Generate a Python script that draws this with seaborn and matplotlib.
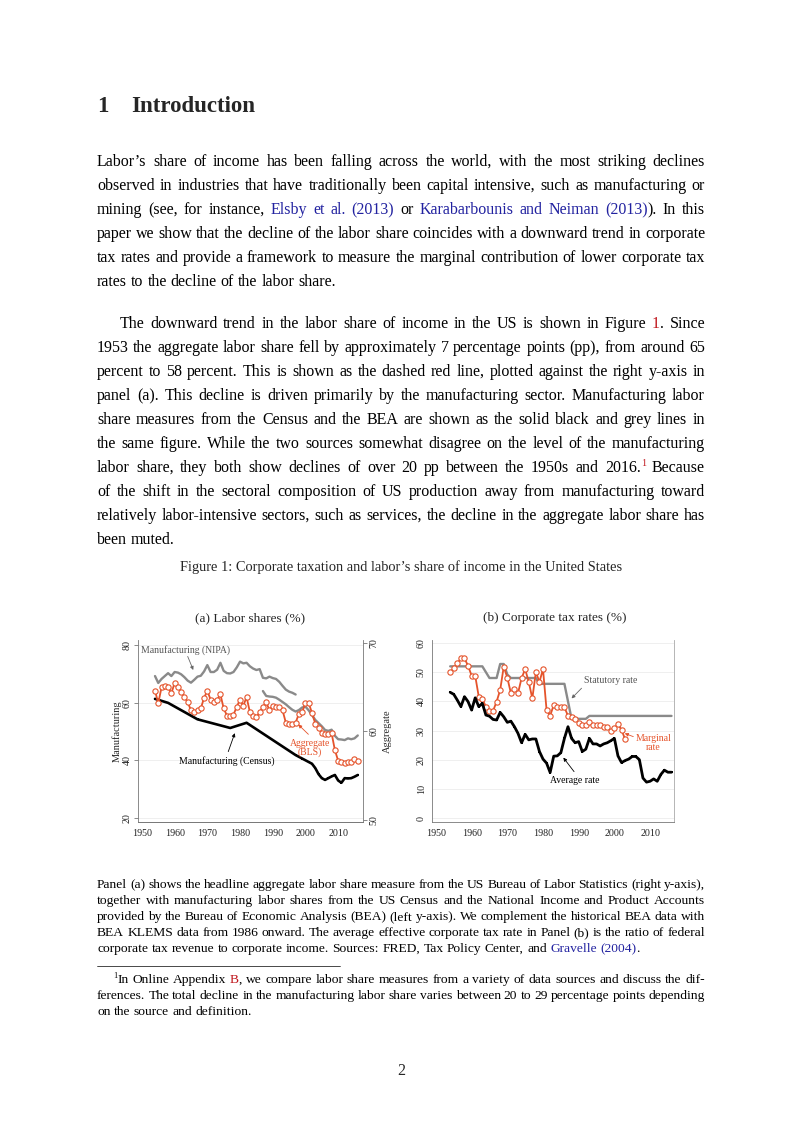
import matplotlib
matplotlib.use("Agg")
import seaborn as sns
import matplotlib.pyplot as plt
from matplotlib.lines import Line2D

# ---------------- data ----------------
# Panel (a): labor shares (%)
bls_years = list(range(1954, 2017))
bls_aggregate = [64.6, 63.2, 65.0, 65.1, 65.0, 64.3, 65.5, 65.0, 64.5, 63.9,
                 63.3, 62.4, 62.2, 62.4, 62.6, 63.8, 64.6, 63.6, 63.3, 63.6,
                 64.2, 62.6, 61.8, 61.7, 61.9, 62.8, 63.6, 62.9, 63.9, 62.2,
                 61.7, 61.6, 62.2, 62.8, 63.3, 62.4, 62.9, 62.8, 62.8, 62.4,
                 61.0, 60.9, 60.9, 61.0, 62.0, 62.2, 63.2, 63.2, 62.1, 60.9,
                 60.4, 59.8, 59.7, 59.7, 59.8, 57.9, 56.7, 56.6, 56.4, 56.5,
                 56.5, 56.9, 56.7]

nipa_years = list(range(1954, 1998))
nipa_manuf = [69.2, 66.8, 68.2, 69.2, 70.2, 69.2, 70.6, 70.4, 69.8, 68.8,
              67.6, 66.9, 67.9, 69.0, 69.3, 70.8, 73.0, 70.6, 70.6, 71.4,
              73.8, 71.0, 70.2, 70.1, 70.6, 72.2, 74.2, 73.6, 73.8, 72.6,
              71.8, 71.3, 71.6, 68.6, 68.4, 69.0, 68.5, 68.2, 67.2, 65.8,
              64.5, 63.8, 63.4, 62.8]

klems_years = list(range(1987, 2017))
klems_manuf = [64.0, 62.3, 62.1, 62.0, 61.7, 61.0, 60.2, 59.4, 58.4, 57.5,
               56.9, 57.4, 58.3, 58.6, 57.3, 55.7, 54.0, 52.9, 51.8, 50.5,
               50.2, 50.6, 48.5, 47.3, 47.2, 47.0, 47.6, 47.3, 47.6, 48.6]

census_years = [1954, 1958, 1967, 1977, 1982, 1997, 1998, 1999, 2000, 2001,
                2002, 2003, 2004, 2005, 2006, 2007, 2008, 2009, 2010, 2011,
                2012, 2013, 2014, 2015, 2016]
census_manuf = [61.3, 59.9, 54.2, 51.2, 53.0, 41.8, 41.2, 40.6, 40.0, 39.4,
                38.8, 37.3, 35.2, 33.8, 33.2, 33.8, 34.4, 34.9, 33.0, 32.2,
                33.8, 33.7, 33.8, 34.3, 34.9]

# Panel (b): corporate tax rates (%)
tax_years = list(range(1954, 2017))
statutory = ([52.0] * 10 + [50.0] + [48.0] * 3 + [52.8] * 2 + [49.2]
             + [48.0] * 8 + [46.0] * 8 + [40.0] + [34.0] * 5 + [35.0] * 24)
average = [43.1, 42.4, 40.4, 38.2, 41.6, 39.9, 37.0, 41.2, 38.2, 39.3,
           35.3, 34.9, 33.8, 33.6, 36.2, 34.7, 32.8, 33.2, 31.3, 29.0,
           25.8, 28.7, 26.8, 27.1, 27.1, 22.8, 20.2, 18.8, 15.6, 21.2,
           21.3, 22.4, 27.3, 31.3, 27.3, 25.8, 26.2, 22.8, 23.6, 27.3,
           25.4, 25.4, 24.7, 25.4, 25.8, 26.5, 27.3, 21.3, 19.0, 19.7,
           20.2, 21.1, 21.1, 20.0, 13.7, 12.3, 12.6, 13.4, 12.6, 14.9,
           16.4, 15.7, 15.7]
marginal_years = list(range(1954, 2004))
marginal = [50.0, 51.3, 53.0, 54.7, 54.7, 52.2, 48.8, 48.8, 41.6, 40.8,
            38.2, 36.7, 36.7, 39.9, 43.9, 51.9, 48.1, 42.8, 44.2, 42.8,
            48.0, 51.0, 46.7, 41.0, 50.0, 46.7, 51.0, 37.0, 35.1, 38.7,
            38.2, 38.0, 38.0, 35.0, 34.6, 33.8, 32.7, 31.9, 31.9, 33.0,
            31.9, 31.9, 31.9, 31.1, 31.1, 30.0, 30.7, 32.2, 30.2, 27.0]

# ---------------- style ----------------
sns.set_style("white")
plt.rcParams["font.family"] = ["Liberation Serif", "DejaVu Serif"]

RED = "#e5532b"
GREY = "#8a8a8a"
BLUE = "#2222a0"
LINKRED = "#c0161c"
W, H = 802, 1133

fig = plt.figure(figsize=(W / 100, H / 100), dpi=100)
renderer = fig.canvas.get_renderer()


def fx(x):
    return x / W


def fy(y):
    return 1 - y / H


def style_axes(ax, xlim, ylim, yticks):
    ax.set_xlim(*xlim)
    ax.set_ylim(*ylim)
    ax.set_xticks(range(1950, 2011, 10))
    ax.set_yticks(yticks)
    ax.grid(axis="y", color="#ececec", lw=0.6)
    ax.grid(axis="x", visible=False)
    ax.spines["top"].set_visible(False)
    for s in ["left", "bottom", "right"]:
        ax.spines[s].set_color("#777777")
        ax.spines[s].set_linewidth(0.6)
    ax.tick_params(axis="both", direction="out", length=3, width=0.6,
                   color="#777777", labelsize=7.2, pad=2, labelcolor="#222222")
    ax.tick_params(axis="y", labelrotation=90, pad=1.5)
    for lab in ax.get_yticklabels():
        lab.set_va("center")
    ax.set_xlabel("")
    ax.set_ylabel("")


arrow = dict(arrowstyle="-|>", lw=0.6, mutation_scale=5, shrinkA=0, shrinkB=0)

# ---------------- panel (a) ----------------
axa = fig.add_axes([fx(138), fy(822), fx(363) - fx(138), fy(640) - fy(822)])
axr = axa.twinx()

sns.lineplot(x=nipa_years, y=nipa_manuf, ax=axa, color=GREY, lw=1.7)
sns.lineplot(x=klems_years, y=klems_manuf, ax=axa, color=GREY, lw=1.7)
sns.lineplot(x=census_years, y=census_manuf, ax=axa, color="black", lw=1.9,
             marker="s", markersize=1.6, markeredgewidth=0)
sns.lineplot(x=bls_years, y=bls_aggregate, ax=axr, color=RED, lw=1.3,
             marker="o", markersize=3.8, markerfacecolor="white",
             markeredgecolor=RED, markeredgewidth=0.8)

style_axes(axa, (1948.8, 2017.6), (18.6, 81.7), [20, 40, 60, 80])
style_axes(axr, (1948.8, 2017.6), (49.77, 70.34), [50, 60, 70])
axr.grid(False)
axr.spines["left"].set_visible(False)
axa.spines["right"].set_visible(False)
axa.set_ylabel("Manufacturing", fontsize=7.5, labelpad=1)
axr.set_ylabel("Aggregate", fontsize=7.5, labelpad=3, rotation=90)

axa.text(1949.7, 78.3, "Manufacturing (NIPA)", fontsize=7, color="#555555",
         ha="left", va="center")
axa.annotate("", xy=(1965.7, 71.3), xytext=(1964.0, 76.0),
             arrowprops=dict(arrow, color="#666666"))
axa.text(1975.9, 39.9, "Manufacturing (Census)", fontsize=7, color="black",
         ha="center", va="center")
axa.annotate("", xy=(1978.4, 49.4), xytext=(1976.4, 43.0),
             arrowprops=dict(arrow, color="black"))
axa.text(2001.4, 44.2, "Aggregate\n(BLS)", fontsize=7, color=RED,
         ha="center", va="center", linespacing=0.95)
axa.annotate("", xy=(1997.8, 52.4), xytext=(2000.9, 49.0),
             arrowprops=dict(arrow, color=RED))

# ---------------- panel (b) ----------------
axb = fig.add_axes([fx(432), fy(822), fx(674) - fx(432), fy(640) - fy(822)])
sns.lineplot(x=tax_years, y=statutory, ax=axb, color=GREY, lw=1.7)
sns.lineplot(x=marginal_years, y=marginal, ax=axb, color=RED, lw=1.3,
             marker="o", markersize=3.8, markerfacecolor="white",
             markeredgecolor=RED, markeredgewidth=0.8)
sns.lineplot(x=tax_years, y=average, ax=axb, color="black", lw=2.0,
             marker="s", markersize=1.6, markeredgewidth=0)
style_axes(axb, (1948.9, 2016.7), (-1.37, 61.03), list(range(0, 61, 10)))
axb.spines["right"].set_color("#aaaaaa")
axb.tick_params(axis="y", right=False)

axb.text(1999.0, 47.3, "Statutory rate", fontsize=7, color="#555555",
         ha="center", va="center")
axb.annotate("", xy=(1988.0, 41.0), xytext=(1990.8, 44.5),
             arrowprops=dict(arrow, color="#666666"))
axb.text(2010.9, 25.7, "Marginal\nrate", fontsize=7, color=RED,
         ha="center", va="center", linespacing=0.95)
axb.annotate("", xy=(2002.9, 29.0), xytext=(2005.3, 27.9),
             arrowprops=dict(arrow, color=RED))
axb.text(1988.9, 12.8, "Average rate", fontsize=7, color="black",
         ha="center", va="center")
axb.annotate("", xy=(1985.7, 20.7), xytext=(1988.7, 15.9),
             arrowprops=dict(arrow, color="black"))

fig.text(fx(250), fy(621), "(a) Labor shares (%)", fontsize=9.5, ha="center")
fig.text(fx(555), fy(621), "(b) Corporate tax rates (%)", fontsize=9.5,
         ha="center")


# ---------------- page text ----------------
def split_words(frags):
    words = [[]]
    for fr in frags:
        txt, col = fr[0], fr[1]
        sup = len(fr) > 2 and fr[2]
        parts = txt.split(" ")
        for i, p in enumerate(parts):
            if i > 0:
                words.append([])
            if p:
                words[-1].append((p, col, sup))
    return [w for w in words if w]


def put_line(y, frags, size, x0=97, x1=705, justify=True):
    items = []
    for w in split_words(frags):
        parts = []
        width = 0
        for txt, col, sup in w:
            fs = size * 0.62 if sup else size
            t = fig.text(0, 0, txt, fontsize=fs, color=col, va="baseline")
            wd = t.get_window_extent(renderer).width
            parts.append((t, wd, sup))
            width += wd
        items.append((parts, width))
    total = sum(wd for _, wd in items)
    if justify and len(items) > 1:
        gap = (x1 - x0 - total) / (len(items) - 1)
    else:
        gap = size * 100 / 72 * 0.25
    x = x0
    for parts, width in items:
        for t, wd, sup in parts:
            lift = size * 100 / 72 * 0.38 if sup else 0
            t.set_position((fx(x), fy(y - lift)))
            x += wd
        x += gap


K = "black"
BODY = 11.5
NOTE = 9.7

fig.text(fx(97), fy(112), "1", fontsize=16.5, fontweight="bold", va="baseline")
fig.text(fx(131), fy(112), "Introduction", fontsize=16.5, fontweight="bold",
         va="baseline")

para1 = [
    [("Labor’s share of income has been falling across the world, with the most striking declines", K)],
    [("observed in industries that have traditionally been capital intensive, such as manufacturing or", K)],
    [("mining (see, for instance, ", K), ("Elsby et al. (2013)", BLUE), (" or ", K),
     ("Karabarbounis and Neiman (2013)", BLUE), (").  In this", K)],
    [("paper we show that the decline of the labor share coincides with a downward trend in corporate", K)],
    [("tax rates and provide a framework to measure the marginal contribution of lower corporate tax", K)],
    [("rates to the decline of the labor share.", K)],
]
for i, line in enumerate(para1):
    put_line(166 + 24 * i, line, BODY, justify=i < len(para1) - 1)

para2 = [
    [("The downward trend in the labor share of income in the US is shown in Figure ", K),
     ("1", LINKRED), (".  Since", K)],
    [("1953 the aggregate labor share fell by approximately 7 percentage points (pp), from around 65", K)],
    [("percent to 58 percent.  This is shown as the dashed red line, plotted against the right y-axis in", K)],
    [("panel (a).  This decline is driven primarily by the manufacturing sector.  Manufacturing labor", K)],
    [("share measures from the Census and the BEA are shown as the solid black and grey lines in", K)],
    [("the same figure.  While the two sources somewhat disagree on the level of the manufacturing", K)],
    [("labor share, they both show declines of over 20 pp between the 1950s and 2016.", K),
     ("1", LINKRED, True), ("  Because", K)],
    [("of the shift in the sectoral composition of US production away from manufacturing toward", K)],
    [("relatively labor-intensive sectors, such as services, the decline in the aggregate labor share has", K)],
    [("been muted.", K)],
]
for i, line in enumerate(para2):
    put_line(328 + 24 * i, line, BODY, x0=120 if i == 0 else 97,
             justify=i < len(para2) - 1)

cap = fig.text(fx(401), fy(571),
               "Figure 1: Corporate taxation and labor’s share of income in the United States",
               fontsize=BODY, ha="center", va="baseline")
cw = cap.get_window_extent(renderer).width
cap.set_fontsize(BODY * 444 / cw)

notes = [
    [("Panel (a) shows the headline aggregate labor share measure from the US Bureau of Labor Statistics (right y-axis),", K)],
    [("together with manufacturing labor shares from the US Census and the National Income and Product Accounts", K)],
    [("provided by the Bureau of Economic Analysis (BEA) (left y-axis). We complement the historical BEA data with", K)],
    [("BEA KLEMS data from 1986 onward. The average effective corporate tax rate in Panel (b) is the ratio of federal", K)],
    [("corporate tax revenue to corporate income. Sources: FRED, Tax Policy Center, and ", K),
     ("Gravelle (2004)", BLUE), (".", K)],
]
for i, line in enumerate(notes):
    put_line(888 + 16 * i, line, NOTE, justify=i < len(notes) - 1)

fig.add_artist(Line2D([fx(97), fx(340)], [fy(966), fy(966)],
                      transform=fig.transFigure, color="black", lw=0.5))

foot = [
    [("1", K, True), ("In Online Appendix ", K), ("B", LINKRED),
     (", we compare labor share measures from a variety of data sources and discuss the dif-", K)],
    [("ferences. The total decline in the manufacturing labor share varies between 20 to 29 percentage points depending", K)],
    [("on the source and definition.", K)],
]
for i, line in enumerate(foot):
    put_line(983 + 16 * i, line, NOTE, x0=113 if i == 0 else 97,
             justify=i < len(foot) - 1)

fig.text(fx(401), fy(1075), "2", fontsize=BODY, ha="center", va="baseline")

fig.savefig("out.png", dpi=100, facecolor="white")
